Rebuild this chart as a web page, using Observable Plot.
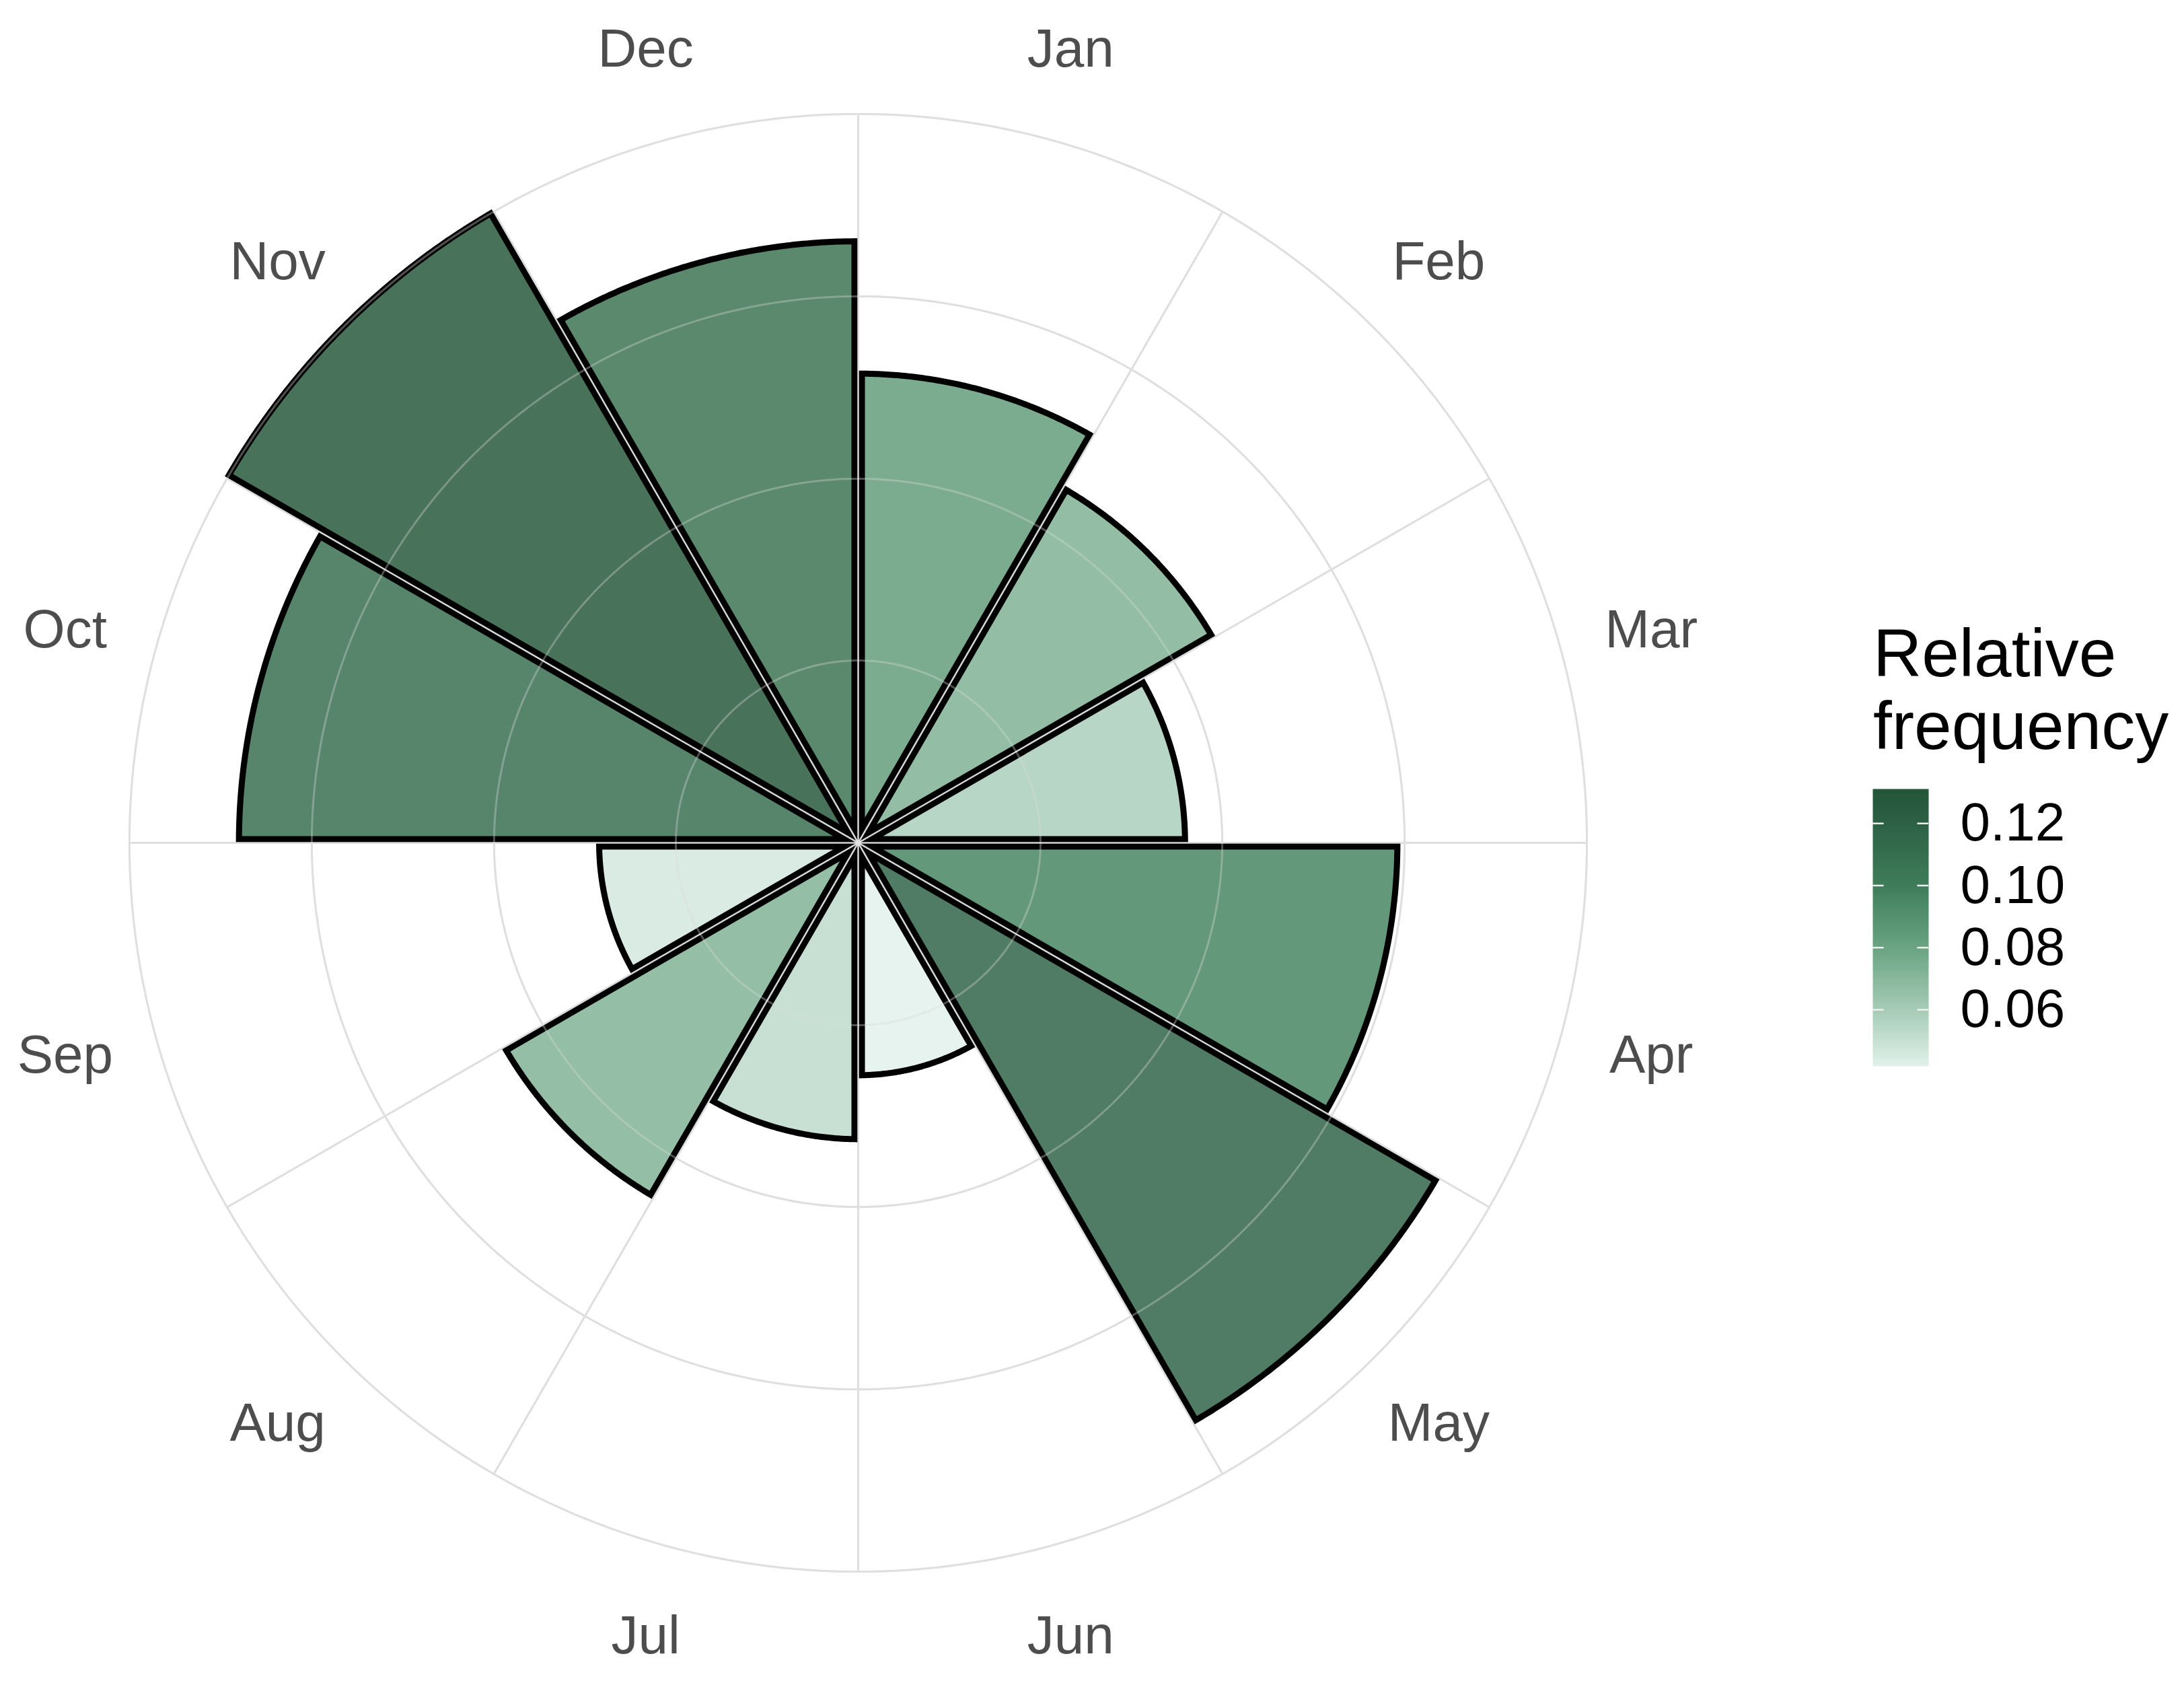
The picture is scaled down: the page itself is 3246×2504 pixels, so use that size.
<!DOCTYPE html>
<html>
<head>
<meta charset="utf-8">
<script src="https://cdn.jsdelivr.net/npm/d3@7"></script>
<script src="https://cdn.jsdelivr.net/npm/@observablehq/plot@0.6"></script>
<style>
  html, body { margin: 0; padding: 0; background: #ffffff; overflow: hidden; }
  #wrap { position: relative; width: 3246px; height: 2504px; font-family: "Liberation Sans", Arial, sans-serif; }
  #main { position: absolute; left: 0; top: 0; }
  #ltitle { position: absolute; left: 2784px; top: 916px; font-size: 100px; line-height: 108px; color: #000; white-space: nowrap; }
  #legend { position: absolute; left: 2783px; top: 1162px; }
</style>
</head>
<body>
<div id="wrap">
  <div id="main"></div>
  <div id="ltitle">Relative<br>frequency</div>
  <div id="legend"></div>
</div>
<script>
// ---- data ----
const months = ["Jan", "Feb", "Mar", "Apr", "May", "Jun", "Jul", "Aug", "Sep", "Oct", "Nov", "Dec"];
const frequency = [0.0844, 0.0737, 0.0588, 0.0970, 0.1203, 0.0418, 0.0533, 0.0735, 0.0466, 0.1114, 0.1311, 0.1082];
const gridBreaks = [0.0328, 0.0655, 0.0983, 0.1311];
const legendTicks = [0.06, 0.08, 0.10, 0.12];
const colorStops = [0.0418, 0.06, 0.08, 0.10, 0.12, 0.1311];
const colorRange = ["#e2f1ea", "#a6ccb7", "#6aa482", "#3f7d5a", "#2d6045", "#245539"];

// ---- layout constants (styling) ----
const extent = 0.1513;        // half-width of the square frame, in frequency units
const labelRadius = 0.1477;   // month labels radius
const edgeInset = 0.00067;    // parallel inset of each wedge's radial edges
const fontStack = "'Liberation Sans', Arial, Helvetica, sans-serif";
const deg = Math.PI / 180;
const sector = 360 / months.length;

const colorOpts = { type: "linear", domain: colorStops, range: colorRange };

// wedge outlines computed from the values
const wedgePts = [];
months.forEach((m, i) => {
  const v = frequency[i];
  const a0 = i * sector * deg, a1 = (i + 1) * sector * deg;
  const mid = (a0 + a1) / 2, half = (a1 - a0) / 2;
  const apex = edgeInset / Math.sin(half);
  const da = Math.asin(edgeInset / v);
  wedgePts.push({ month: m, value: v, x: apex * Math.sin(mid), y: apex * Math.cos(mid) });
  const n = 90;
  for (let k = 0; k <= n; k++) {
    const a = (a0 + da) + (a1 - a0 - 2 * da) * k / n;
    wedgePts.push({ month: m, value: v, x: v * Math.sin(a), y: v * Math.cos(a) });
  }
});

// grid circles and spokes
const circlePts = [];
gridBreaks.forEach(b => {
  for (let k = 0; k < 360; k += 1) circlePts.push({ b, x: b * Math.sin(k * deg), y: b * Math.cos(k * deg) });
});
const outer = gridBreaks[gridBreaks.length - 1];
const spokes = months.map((m, i) => i * sector * deg);

function gridMarks(stroke, opacity, width) {
  return [
    Plot.line(circlePts, { x: "x", y: "y", z: "b", curve: "linear-closed", stroke, strokeOpacity: opacity, strokeWidth: width }),
    Plot.link(spokes, { x1: 0, y1: 0, x2: a => outer * Math.sin(a), y2: a => outer * Math.cos(a), stroke, strokeOpacity: opacity, strokeWidth: width })
  ];
}

const chart = Plot.plot({
  width: 2560,
  height: 2504,
  marginLeft: 25,
  marginRight: 35,
  marginTop: 2,
  marginBottom: 2,
  x: { domain: [-extent, extent], axis: null },
  y: { domain: [-extent, extent], axis: null },
  color: colorOpts,
  style: { fontFamily: fontStack, background: "transparent", overflow: "visible" },
  marks: [
    ...gridMarks("#dcdcdc", 1, 3),
    Plot.line(wedgePts, {
      x: "x", y: "y", z: "month", curve: "linear-closed",
      fill: "value", fillOpacity: 0.83,
      stroke: "black", strokeWidth: 9, strokeLinejoin: "miter", strokeMiterlimit: 10
    }),
    ...gridMarks("#e6e6e6", 0.35, 3),
    Plot.text(months, {
      x: (d, i) => labelRadius * Math.sin((i + 0.5) * sector * deg),
      y: (d, i) => labelRadius * Math.cos((i + 0.5) * sector * deg),
      text: d => d,
      fontSize: 80,
      fill: "#4d4d4d",
      textAnchor: "middle",
      lineAnchor: "middle"
    })
  ]
});
document.getElementById("main").appendChild(chart);

// ---- vertical colourbar legend ----
const [lo, hi] = d3.extent(frequency);
const legend = Plot.plot({
  width: 83 + 300,
  height: 412 + 20,
  marginLeft: 0,
  marginRight: 300,
  marginTop: 10,
  marginBottom: 10,
  x: { domain: [0, 1], axis: null },
  y: { domain: [lo, hi], axis: "right", ticks: legendTicks, tickFormat: d3.format(".2f"), tickSize: 0, tickPadding: 47, label: null },
  color: colorOpts,
  style: { fontFamily: fontStack, fontSize: "80px", color: "#000", background: "transparent", overflow: "visible" },
  marks: [
    Plot.raster({ x1: 0, x2: 1, y1: lo, y2: hi, fill: (x, y) => y, pixelSize: 1, imageRendering: "auto" }),
    Plot.ruleY(legendTicks, { x1: 0, x2: 0.2, stroke: "#f0f0f0", strokeWidth: 2.5 }),
    Plot.ruleY(legendTicks, { x1: 0.8, x2: 1, stroke: "#f0f0f0", strokeWidth: 2.5 })
  ]
});
document.getElementById("legend").appendChild(legend);
</script>
</body>
</html>
